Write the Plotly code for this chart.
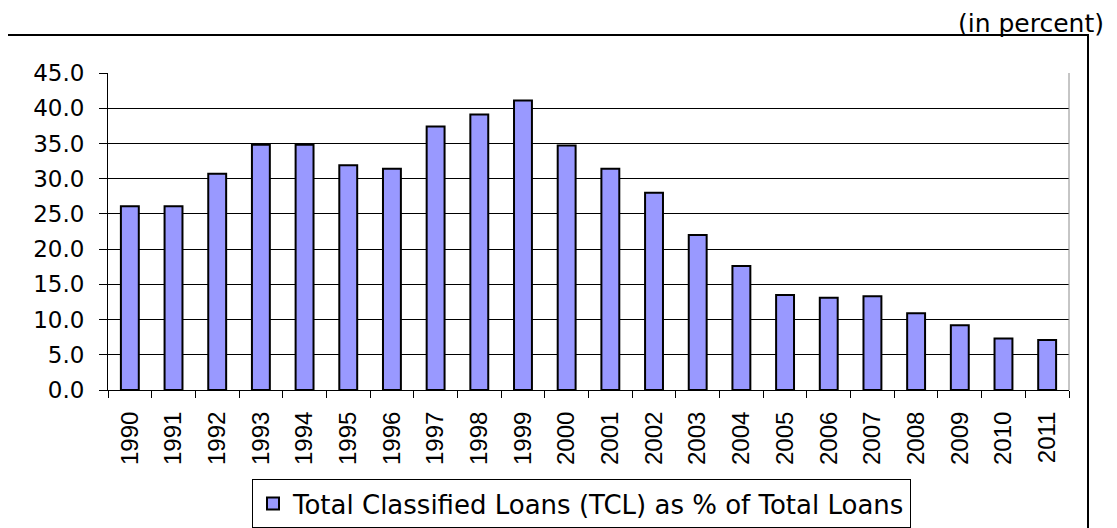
import plotly.graph_objects as go

years = ["1990", "1991", "1992", "1993", "1994", "1995", "1996", "1997", "1998", "1999", "2000",
         "2001", "2002", "2003", "2004", "2005", "2006", "2007", "2008", "2009", "2010", "2011"]
tcl_pct = [26.1, 26.1, 30.7, 34.8, 34.8, 31.9, 31.4, 37.4, 39.1, 41.1, 34.7,
           31.4, 28.0, 22.0, 17.6, 13.5, 13.1, 13.3, 10.9, 9.2, 7.3, 7.1]
series_name = "Total Classified Loans (TCL) as % of Total Loans"
unit_note = "(in percent)"

# page has an 8px body margin; work in page pixels and convert
OFF = 8
PAGE_W, PAGE_H = 1117, 528
W, H = PAGE_W - OFF, PAGE_H - OFF
L, R, T, B = 108, 1069, 73, 390   # plot area in page pixels
ARIAL = "Liberation Sans, Arial, sans-serif"
WIDE = "DejaVu Sans, Verdana, sans-serif"

def px_x(x):
    return (x - L) / (R - L)

def px_y(y):
    return (B - y) / (B - T)

fig = go.Figure()
fig.add_trace(go.Bar(
    x=years, y=tcl_pct, name=series_name,
    marker=dict(color="#9999FF", line=dict(color="black", width=2)),
    showlegend=True,
))

fig.update_layout(
    width=W, height=H,
    margin=dict(l=L - OFF, r=PAGE_W - R, t=T - OFF, b=PAGE_H - B, autoexpand=False),
    paper_bgcolor="white", plot_bgcolor="white",
    font=dict(family=ARIAL, color="black", size=20),
    bargap=0.59,
    showlegend=True,
    legend=dict(
        xref="paper", x=px_x(252), xanchor="left",
        yref="container", y=1 - (479 - OFF) / H, yanchor="top",
        bordercolor="black", borderwidth=1, bgcolor="white",
        font=dict(size=26, family=WIDE), itemwidth=30,
        orientation="h",
    ),
    xaxis=dict(
        type="category", tickangle=-90, showline=True, linecolor="black", linewidth=1,
        ticks="outside", ticklen=7, tickcolor="black", tickson="boundaries",
        tickfont=dict(size=24, family=ARIAL), showgrid=False, automargin=False,
        ticklabelstandoff=11,
    ),
    yaxis=dict(
        range=[0, 45], dtick=5, tickformat=".1f", showline=True, linecolor="black",
        linewidth=1, ticks="outside", ticklen=8, tickcolor="black",
        gridcolor="black", gridwidth=1, zeroline=False, automargin=False,
        tickfont=dict(size=23, family=WIDE), ticklabelstandoff=10,
    ),
)

# right plot-area border
fig.add_shape(type="line", xref="paper", yref="paper", x0=1, x1=1, y0=0, y1=1,
              line=dict(color="#8c8c8c", width=1))
# outer chart border
fig.add_shape(type="rect", xref="paper", yref="paper",
              x0=px_x(7), x1=px_x(1088), y0=px_y(534), y1=px_y(35),
              line=dict(color="black", width=2), layer="below")

fig.add_annotation(text=unit_note, xref="paper", yref="paper",
                   x=px_x(1106), y=px_y(23), xanchor="right", yanchor="middle",
                   showarrow=False, font=dict(size=25, family=WIDE, color="black"))

fig.write_html("out.html")
